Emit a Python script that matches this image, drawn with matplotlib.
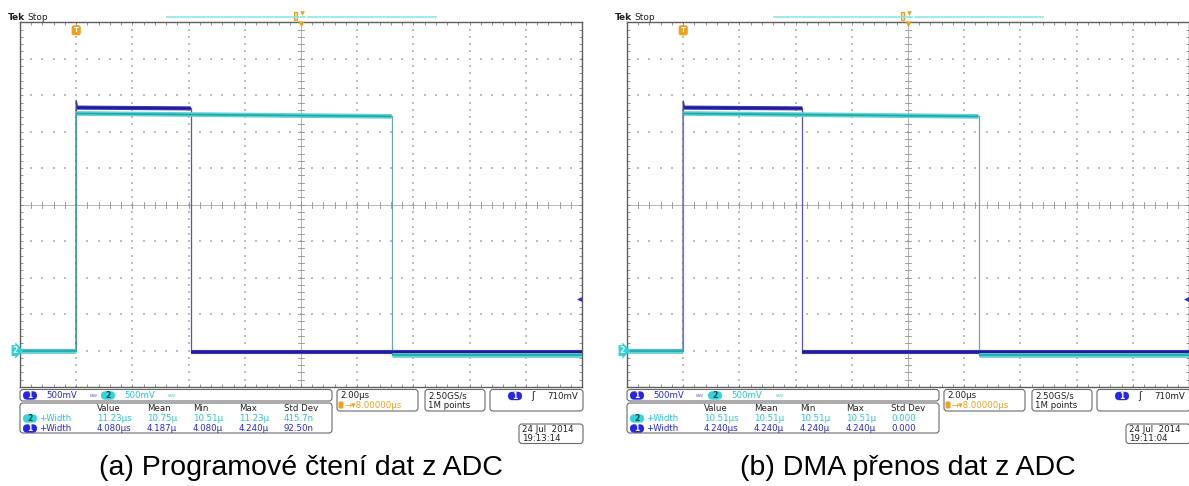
import numpy as np
import matplotlib
matplotlib.use("Agg")
import matplotlib.pyplot as plt
from matplotlib.patches import FancyBboxPatch
from matplotlib.transforms import blended_transform_factory

# ---------------- data ----------------
captions = ["(a) Programové čtení dat z ADC", "(b) DMA přenos dat z ADC"]
ch1_width_us = [4.08, 4.24]
ch2_width_us = [11.23, 10.51]
ch1_low_start = [0.00, 0.00]
ch1_overshoot = [3.43, 3.42]
ch1_high_start = [3.33, 3.33]
ch1_high_end = [3.32, 3.32]
ch1_low_end = [-0.02, -0.02]
ch2_low_start = [-0.01, -0.01]
ch2_high_start = [3.25, 3.25]
ch2_high_end = [3.21, 3.21]
ch2_low_end = [-0.06, -0.06]
trigger_level_v = 0.71
volts_per_div = 0.5
time_per_div_us = 2.0
h_delay_us = 8.0
meas_headers = ["Value", "Mean", "Min", "Max", "Std Dev"]
meas_ch2 = [["11.23µs", "10.75µ", "10.51µ", "11.23µ", "415.7n"],
            ["10.51µs", "10.51µ", "10.51µ", "10.51µ", "0.000"]]
meas_ch1 = [["4.080µs", "4.187µ", "4.080µ", "4.240µ", "92.50n"],
            ["4.240µs", "4.240µ", "4.240µ", "4.240µ", "0.000"]]
dates = ["24 Jul  2014", "24 Jul  2014"]
clock = ["19:13:14", "19:11:04"]

# ---------------- style ----------------
W, H = 1189, 486
C1 = "#1c1c90"; C1B = "#3a3ab4"; C1T = "#2626e6"
C2 = "#1aa8a8"; C2B = "#62d2d2"; C2T = "#26c8d2"
ORG = "#f0a020"
FRAME_TOP, FRAME_BOT, FRAME_W = 22.3, 387.0, 562.0
panel_x0 = [20.0, 627.0]
FS = 6.2

fig = plt.figure(figsize=(W / 100, H / 100), dpi=100)
ov = fig.add_axes([0, 0, 1, 1])
ov.set_xlim(0, W); ov.set_ylim(H, 0); ov.axis("off")


def rbox(x, y, w, h, r=3, ec="#6a6a6a", fc="white", lw=0.8):
    ov.add_patch(FancyBboxPatch((x, y), w, h, boxstyle=f"round,pad=0,rounding_size={r}",
                                fc=fc, ec=ec, lw=lw))


def pill(x, y, label, color):
    ov.add_patch(FancyBboxPatch((x, y - 4.2), 14, 8.4, boxstyle="round,pad=0,rounding_size=4.2",
                                fc=color, ec="none"))
    ov.text(x + 7, y, label, color="white" if color == C1T else "#0a4a50",
            fontsize=5.5, ha="center", va="center", fontweight="bold")


def txt(x, y, s, color="#202020", size=FS, **kw):
    ov.text(x, y, s, color=color, fontsize=size, ha="left", va="center", **kw)


t_min = -1 * time_per_div_us
t_max = t_min + 10 * time_per_div_us
v_min = -1 * volts_per_div
v_max = v_min + 10 * volts_per_div

for i, ox in enumerate(panel_x0):
    ax = fig.add_axes([ox / W, 1 - FRAME_BOT / H, FRAME_W / W, (FRAME_BOT - FRAME_TOP) / H])
    ax.set_xlim(t_min, t_max); ax.set_ylim(v_min, v_max)
    ax.set_facecolor("white")
    for s in ax.spines.values():
        s.set_color("#5e5e5e"); s.set_linewidth(1.0)
    ax.set_xticks(np.arange(t_min, t_max + 1e-6, time_per_div_us / 5))
    ax.set_yticks(np.arange(v_min, v_max + 1e-6, volts_per_div / 5))
    ax.tick_params(direction="in", length=2.5, width=0.6, color="#808080",
                   top=True, right=True, labelbottom=False, labelleft=False)

    # dotted graticule
    tc = t_min + 5 * time_per_div_us
    vc = v_min + 5 * volts_per_div
    ydots = np.arange(v_min, v_max + 1e-6, volts_per_div / 5)
    xdots = np.arange(t_min, t_max + 1e-6, time_per_div_us / 5)
    for k in range(1, 10):
        if k == 5:
            continue
        xv = t_min + k * time_per_div_us
        ax.scatter(np.full_like(ydots, xv), ydots, s=1.0, marker="s", color="#bdbdbd", lw=0, zorder=1)
        yv = v_min + k * volts_per_div
        ax.scatter(xdots, np.full_like(xdots, yv), s=1.0, marker="s", color="#bdbdbd", lw=0, zorder=1)
    # center crosshair with ticks
    ax.axvline(tc, color="#a8a8a8", lw=0.6, zorder=1)
    ax.axhline(vc, color="#a8a8a8", lw=0.6, zorder=1)
    dx = 3 / (FRAME_W / 10) * time_per_div_us
    dy = 3 / ((FRAME_BOT - FRAME_TOP) / 10) * volts_per_div
    for xv in xdots:
        ax.plot([xv, xv], [vc - dy, vc + dy], color="#909090", lw=0.6, zorder=1)
    for yv in ydots:
        ax.plot([tc - dx, tc + dx], [yv, yv], color="#909090", lw=0.6, zorder=1)

    w1, w2 = ch1_width_us[i], ch2_width_us[i]
    # channel 1 trace
    segs1 = [([t_min, 0], [ch1_low_start[i]] * 2),
             ([0.03, w1], [ch1_high_start[i], ch1_high_end[i]]),
             ([w1, t_max], [ch1_low_end[i]] * 2)]
    for xs, ys in segs1:
        ax.plot(xs, ys, color=C1B, lw=3.0, solid_capstyle="butt", zorder=3)
        ax.plot(xs, ys, color=C1, lw=1.3, solid_capstyle="butt", zorder=3.1)
    ax.plot([0, 0, 0.05], [ch1_low_start[i], ch1_overshoot[i], ch1_high_start[i]],
            color=C1B, lw=1.0, zorder=3)
    ax.plot([w1, w1], [ch1_high_end[i], ch1_low_end[i]], color="#5656bc", lw=0.9, zorder=2.5)
    # channel 2 trace
    segs2 = [([t_min, 0], [ch2_low_start[i]] * 2),
             ([0, w2], [ch2_high_start[i], ch2_high_end[i]]),
             ([w2, t_max], [ch2_low_end[i]] * 2)]
    for xs, ys in segs2:
        ax.plot(xs, ys, color=C2B, lw=3.4, solid_capstyle="butt", zorder=4)
        ax.plot(xs, ys, color=C2, lw=1.2, solid_capstyle="butt", zorder=4.1)
    ax.plot([0, 0], [ch2_low_start[i], ch2_high_start[i]], color="#4a9a9a", lw=0.9, zorder=4.2)
    ax.plot([w2, w2], [ch2_high_end[i], ch2_low_end[i]], color="#6aa8a8", lw=0.9, zorder=2.6)

    # markers
    ax.text(0, v_max - 8 / 36.5 * volts_per_div, "T", color="white", fontsize=5,
            fontweight="bold", ha="center", va="center", zorder=6,
            bbox=dict(boxstyle="round,pad=0.3,rounding_size=0.35", fc=ORG, ec="none"))
    ax.plot(h_delay_us, v_max - 0.02, marker="v", color=ORG, ms=4, mec="none", clip_on=False, zorder=6)
    ax.plot([t_max - 0.12, t_max - 0.04], [trigger_level_v] * 2, color=C1T, lw=0.9, zorder=6)
    ax.plot(t_max - 0.12, trigger_level_v, marker="<", color=C1T, ms=3.5, mec="none", zorder=6)
    bt = blended_transform_factory(ax.transAxes, ax.transData)
    ax.text(-0.004, 0.0, "2", transform=bt, color="white", fontsize=5.5, fontweight="bold",
            ha="right", va="center", clip_on=False, zorder=7,
            bbox=dict(boxstyle="rarrow,pad=0.12", fc="#30d2d8", ec="none"))

    # header
    txt(ox - 12, 17.5, "Tek", size=6.5, fontweight="bold")
    txt(ox + 7, 17.5, "Stop", size=6.5)
    ov.plot([ox + 147, ox + 285], [17.3, 17.3], color="#80e6e6", lw=1.1)
    ov.plot([ox + 288, ox + 416], [17.3, 17.3], color="#80e6e6", lw=1.1)
    ov.add_patch(FancyBboxPatch((ox + 273.5, 12.5), 3.6, 8, boxstyle="square,pad=0",
                                fc="#fde2b0", ec=ORG, lw=0.9))
    ov.plot(ox + 281.5, 13.2, marker="v", color=ORG, ms=3.3, mec="none")

    # channel row
    rbox(ox, 389.5, 312, 11.5)
    pill(ox + 3, 395.5, "1", C1T)
    txt(ox + 26, 395.5, "500mV", C1T)
    txt(ox + 69, 395.5, "ʙᴡ", "#7a7ae0", size=4.2)
    pill(ox + 81, 395.5, "2", "#34d4da")
    txt(ox + 104, 395.5, "500mV", C2T)
    txt(ox + 148, 395.5, "ʙᴡ", "#70dada", size=4.2)

    # measurement table
    rbox(ox, 403, 312, 30)
    cols = [77, 127, 173, 219, 264]
    for c, h in zip(cols, meas_headers):
        txt(ox + c, 408.5, h)
    pill(ox + 3, 418.5, "2", "#34d4da")
    txt(ox + 19, 418.5, "+Width", C2T)
    pill(ox + 3, 428.5, "1", C1T)
    txt(ox + 19, 428.5, "+Width", C1T)
    for c, a, b in zip(cols, meas_ch2[i], meas_ch1[i]):
        txt(ox + c, 418.5, a, C2T)
        txt(ox + c, 428.5, b, C1T)

    # timebase
    rbox(ox + 317, 389.5, 81, 21.5)
    txt(ox + 320, 395.5, "2.00µs")
    ov.add_patch(FancyBboxPatch((ox + 318.5, 401.5), 5, 7, boxstyle="round,pad=0,rounding_size=1.2",
                                fc=ORG, ec="none"))
    txt(ox + 324.5, 405.5, "→▾8.00000µs", ORG)
    # sample rate
    rbox(ox + 405, 389.5, 60, 21.5)
    txt(ox + 408, 395.5, "2.50GS/s")
    txt(ox + 408, 405.5, "1M points")
    # trigger
    rbox(ox + 470, 389.5, 93, 21.5)
    pill(ox + 488, 396, "1", C1T)
    txt(ox + 511, 396, "ʃ", size=7)
    txt(ox + 527, 396, "710mV")
    # date
    rbox(ox + 499, 424, 64, 19.5)
    txt(ox + 502, 429, dates[i])
    txt(ox + 502, 438.5, clock[i])

    # caption
    ov.text(ox + FRAME_W / 2, 468, captions[i], fontsize=20.5, family="Liberation Sans",
            ha="center", va="center", color="black")

fig.savefig("out.png", dpi=100)
